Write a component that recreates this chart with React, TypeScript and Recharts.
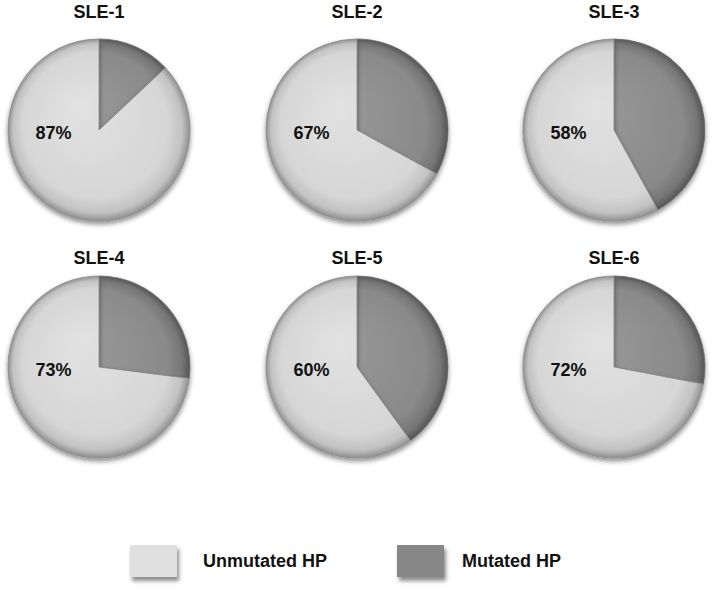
import React from "react";
import { PieChart, Pie, Cell, Legend } from "recharts";

const samples = ["SLE-1", "SLE-2", "SLE-3", "SLE-4", "SLE-5", "SLE-6"];
const seriesNames = ["Mutated HP", "Unmutated HP"];
const unmutated = [87, 67, 58, 73, 60, 72];
const mutated = [13, 33, 42, 27, 40, 28];

const W = 714;
const H = 594;
const R = 91;
const COL_X = [99, 357, 614];
const ROW_Y = [130, 367];
const TITLE_Y = [1, 247];
const FONT = "Arial, 'Liberation Sans', Helvetica, sans-serif";

const SWATCH: Record<string, string> = {
  "Unmutated HP": "#e0e0e0",
  "Mutated HP": "#878787",
};

const pies = samples.map((name, i) => ({
  name,
  cx: COL_X[i % 3],
  cy: ROW_Y[Math.floor(i / 3)],
  titleY: TITLE_Y[Math.floor(i / 3)],
  data: [
    { name: seriesNames[0], value: mutated[i] },
    { name: seriesNames[1], value: unmutated[i] },
  ],
}));

const renderPercent = (props: any) => {
  const { cx, cy, outerRadius, index, value } = props;
  if (index !== 1) return null;
  return (
    <text
      x={cx - outerRadius * 0.5}
      y={cy + 3}
      textAnchor="middle"
      dominantBaseline="central"
      fontFamily={FONT}
      fontWeight="bold"
      fontSize={18}
      fill="#111"
    >
      {value}%
    </text>
  );
};

const renderLegend = (props: any) => {
  const seen = new Set<string>();
  const items = (props.payload || [])
    .filter((p: any) => {
      if (seen.has(p.value)) return false;
      seen.add(p.value);
      return true;
    })
    .sort((a: any, b: any) => seriesNames.indexOf(b.value) - seriesNames.indexOf(a.value));
  const boxX = [130, 397];
  const textX = [203, 462];
  return (
    <div style={{ position: "relative", width: W, height: 50, fontFamily: FONT }}>
      {items.map((p: any, i: number) => (
        <React.Fragment key={p.value}>
          <div
            style={{
              position: "absolute",
              left: boxX[i],
              top: 10,
              width: 47,
              height: 32,
              background: SWATCH[p.value],
              boxShadow: "2px 4px 4px rgba(0,0,0,0.45)",
            }}
          />
          <div
            style={{
              position: "absolute",
              left: textX[i],
              top: 15,
              fontSize: 18,
              fontWeight: "bold",
              color: "#111",
              lineHeight: "22px",
              whiteSpace: "nowrap",
            }}
          >
            {p.value}
          </div>
        </React.Fragment>
      ))}
    </div>
  );
};

export default function App() {
  return (
    <div style={{ position: "absolute", left: 0, top: 0, width: W, height: H, background: "#fff" }}>
      <PieChart width={W} height={H} margin={{ top: 0, right: 0, bottom: 0, left: 0 }}>
        <defs>
          <filter id="pieShadow" x="-20%" y="-20%" width="140%" height="150%">
            <feDropShadow dx="0" dy="3" stdDeviation="2.5" floodColor="#000" floodOpacity="0.45" />
          </filter>
          {pies.map((p, i) => (
            <React.Fragment key={p.name}>
              <radialGradient id={`light${i}`} gradientUnits="userSpaceOnUse" cx={p.cx} cy={p.cy} r={R} fx={p.cx - 20} fy={p.cy - 25}>
                <stop offset="0%" stopColor="#e2e2e2" />
                <stop offset="80%" stopColor="#d6d6d6" />
                <stop offset="93%" stopColor="#c2c2c2" />
                <stop offset="100%" stopColor="#909090" />
              </radialGradient>
              <radialGradient id={`dark${i}`} gradientUnits="userSpaceOnUse" cx={p.cx} cy={p.cy} r={R} fx={p.cx - 20} fy={p.cy - 25}>
                <stop offset="0%" stopColor="#999999" />
                <stop offset="80%" stopColor="#8a8a8a" />
                <stop offset="93%" stopColor="#767676" />
                <stop offset="100%" stopColor="#555555" />
              </radialGradient>
            </React.Fragment>
          ))}
        </defs>
        {pies.map((p, i) => (
          <Pie
            key={p.name}
            data={p.data}
            dataKey="value"
            nameKey="name"
            cx={p.cx}
            cy={p.cy}
            outerRadius={R}
            startAngle={90}
            endAngle={-270}
            label={renderPercent}
            labelLine={false}
            isAnimationActive={false}
          >
            <Cell fill={`url(#dark${i})`} stroke="#6f6f6f" strokeWidth={0.8} filter="url(#pieShadow)" />
            <Cell fill={`url(#light${i})`} stroke="#8a8a8a" strokeWidth={0.8} filter="url(#pieShadow)" />
          </Pie>
        ))}
        <Legend
          content={renderLegend}
          wrapperStyle={{ position: "absolute", left: 0, top: 535, width: W, height: 50 }}
        />
      </PieChart>
      {pies.map((p) => (
        <div
          key={p.name}
          style={{
            position: "absolute",
            left: p.cx - 50,
            top: p.titleY,
            width: 100,
            textAlign: "center",
            fontFamily: FONT,
            fontWeight: "bold",
            fontSize: 18,
            lineHeight: "22px",
            color: "#111",
          }}
        >
          {p.name}
        </div>
      ))}
    </div>
  );
}
